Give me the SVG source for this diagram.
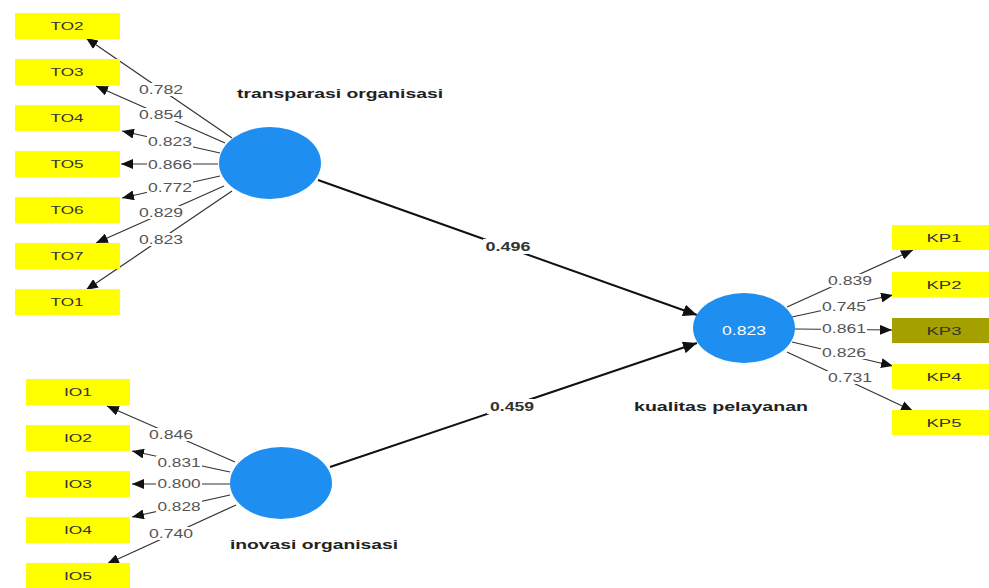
<svg xmlns="http://www.w3.org/2000/svg" width="989" height="588" viewBox="0 0 989 588">
<defs>
<style>
.ind rect{fill:#ffff00}
.ind text{font-family:"Liberation Sans",Arial,sans-serif;font-size:11px;fill:#333;text-anchor:middle}
.lv ellipse{fill:#1e8ff0}
.lvlab{font-family:"Liberation Sans",Arial,sans-serif;font-size:13px;font-weight:bold;fill:#222}
.ol{stroke:#333;stroke-width:1.2;fill:none;marker-end:url(#as)}
.il{stroke:#111;stroke-width:2;fill:none;marker-end:url(#al)}
.bg{fill:#fff}
.w{font-family:"Liberation Sans",Arial,sans-serif;font-size:12px;fill:#555;text-anchor:middle}
.pw{font-family:"Liberation Sans",Arial,sans-serif;font-size:12px;font-weight:bold;fill:#333;text-anchor:middle}
</style>
<marker id="as" markerUnits="userSpaceOnUse" markerWidth="12" markerHeight="10" refX="12" refY="5" orient="auto">
<path d="M0,0 L12,5 L0,10 Z" fill="#111"/>
</marker>
<marker id="al" markerUnits="userSpaceOnUse" markerWidth="14" markerHeight="12" refX="14" refY="6" orient="auto">
<path d="M0,0 L14,6 L0,12 Z" fill="#111"/>
</marker>
</defs>
<rect width="989" height="588" fill="#fff"/>

<g id="connectors">
<line class="ol" x1="232" y1="138" x2="86" y2="38"/>
<line class="ol" x1="225" y1="143" x2="96" y2="86"/>
<line class="ol" x1="220" y1="153" x2="122" y2="131"/>
<line class="ol" x1="218" y1="164" x2="121" y2="164"/>
<line class="ol" x1="220" y1="176" x2="122" y2="198"/>
<line class="ol" x1="224" y1="186" x2="96" y2="243"/>
<line class="ol" x1="232" y1="191" x2="86" y2="290"/>
<line class="ol" x1="235" y1="462" x2="107" y2="406"/>
<line class="ol" x1="230" y1="472" x2="132" y2="451"/>
<line class="ol" x1="230" y1="484" x2="132" y2="484"/>
<line class="ol" x1="230" y1="495" x2="132" y2="517"/>
<line class="ol" x1="236" y1="505" x2="107" y2="564"/>
<line class="ol" x1="787" y1="307" x2="913" y2="250"/>
<line class="ol" x1="792" y1="317" x2="893" y2="295"/>
<line class="ol" x1="795" y1="329" x2="892" y2="330"/>
<line class="ol" x1="792" y1="342" x2="893" y2="366"/>
<line class="ol" x1="787" y1="352" x2="913" y2="411"/>
<line class="il" x1="318" y1="180" x2="697" y2="315"/>
<line class="il" x1="330" y1="467" x2="697" y2="343"/>
<g id="weights">
<rect class="bg" x="138" y="83" width="46" height="13"/><text class="w" x="161" y="94" textLength="44" lengthAdjust="spacingAndGlyphs">0.782</text>
<rect class="bg" x="138" y="108" width="46" height="13"/><text class="w" x="161" y="119" textLength="44" lengthAdjust="spacingAndGlyphs">0.854</text>
<rect class="bg" x="147" y="135" width="46" height="13"/><text class="w" x="170" y="146" textLength="44" lengthAdjust="spacingAndGlyphs">0.823</text>
<rect class="bg" x="147" y="158" width="46" height="13"/><text class="w" x="170" y="169" textLength="44" lengthAdjust="spacingAndGlyphs">0.866</text>
<rect class="bg" x="147" y="181" width="46" height="13"/><text class="w" x="170" y="192" textLength="44" lengthAdjust="spacingAndGlyphs">0.772</text>
<rect class="bg" x="138" y="206" width="46" height="13"/><text class="w" x="161" y="217" textLength="44" lengthAdjust="spacingAndGlyphs">0.829</text>
<rect class="bg" x="138" y="233" width="46" height="13"/><text class="w" x="161" y="244" textLength="44" lengthAdjust="spacingAndGlyphs">0.823</text>
<rect class="bg" x="148" y="428" width="46" height="13"/><text class="w" x="171" y="439" textLength="44" lengthAdjust="spacingAndGlyphs">0.846</text>
<rect class="bg" x="156" y="456" width="46" height="13"/><text class="w" x="179" y="467" textLength="43" lengthAdjust="spacingAndGlyphs">0.831</text>
<rect class="bg" x="156" y="477" width="46" height="13"/><text class="w" x="179" y="488" textLength="43" lengthAdjust="spacingAndGlyphs">0.800</text>
<rect class="bg" x="156" y="500" width="46" height="13"/><text class="w" x="179" y="511" textLength="43" lengthAdjust="spacingAndGlyphs">0.828</text>
<rect class="bg" x="148" y="527" width="46" height="13"/><text class="w" x="171" y="538" textLength="44" lengthAdjust="spacingAndGlyphs">0.740</text>
<rect class="bg" x="827" y="274" width="46" height="13"/><text class="w" x="850" y="285" textLength="44" lengthAdjust="spacingAndGlyphs">0.839</text>
<rect class="bg" x="821" y="300" width="46" height="13"/><text class="w" x="844" y="311" textLength="44" lengthAdjust="spacingAndGlyphs">0.745</text>
<rect class="bg" x="821" y="322" width="46" height="13"/><text class="w" x="844" y="333" textLength="44" lengthAdjust="spacingAndGlyphs">0.861</text>
<rect class="bg" x="821" y="346" width="46" height="13"/><text class="w" x="844" y="357" textLength="44" lengthAdjust="spacingAndGlyphs">0.826</text>
<rect class="bg" x="827" y="371" width="46" height="13"/><text class="w" x="850" y="382" textLength="44" lengthAdjust="spacingAndGlyphs">0.731</text>
<rect class="bg" x="483" y="239" width="50" height="15"/><text class="pw" x="508" y="251" textLength="45" lengthAdjust="spacingAndGlyphs">0.496</text>
<rect class="bg" x="487" y="399" width="50" height="15"/><text class="pw" x="512" y="411" textLength="44" lengthAdjust="spacingAndGlyphs">0.459</text>
</g>
</g>

<g id="TO2" class="ind"><rect x="15" y="13" width="105" height="26"/><text x="67" y="30" textLength="33" lengthAdjust="spacingAndGlyphs">TO2</text></g>
<g id="TO3" class="ind"><rect x="15" y="59" width="105" height="26"/><text x="67" y="76" textLength="33" lengthAdjust="spacingAndGlyphs">TO3</text></g>
<g id="TO4" class="ind"><rect x="15" y="105" width="105" height="26"/><text x="67" y="122" textLength="33" lengthAdjust="spacingAndGlyphs">TO4</text></g>
<g id="TO5" class="ind"><rect x="15" y="151" width="105" height="26"/><text x="67" y="168" textLength="33" lengthAdjust="spacingAndGlyphs">TO5</text></g>
<g id="TO6" class="ind"><rect x="15" y="197" width="105" height="26"/><text x="67" y="214" textLength="33" lengthAdjust="spacingAndGlyphs">TO6</text></g>
<g id="TO7" class="ind"><rect x="15" y="243" width="105" height="26"/><text x="67" y="260" textLength="33" lengthAdjust="spacingAndGlyphs">TO7</text></g>
<g id="TO1" class="ind"><rect x="15" y="289" width="105" height="26"/><text x="67" y="306" textLength="33" lengthAdjust="spacingAndGlyphs">TO1</text></g>

<g id="IO1" class="ind"><rect x="26" y="379" width="104" height="26"/><text x="78" y="396" textLength="28" lengthAdjust="spacingAndGlyphs">IO1</text></g>
<g id="IO2" class="ind"><rect x="26" y="425" width="104" height="26"/><text x="78" y="442" textLength="28" lengthAdjust="spacingAndGlyphs">IO2</text></g>
<g id="IO3" class="ind"><rect x="26" y="471" width="104" height="26"/><text x="78" y="488" textLength="28" lengthAdjust="spacingAndGlyphs">IO3</text></g>
<g id="IO4" class="ind"><rect x="26" y="517" width="104" height="26"/><text x="78" y="534" textLength="28" lengthAdjust="spacingAndGlyphs">IO4</text></g>
<g id="IO5" class="ind"><rect x="26" y="563" width="104" height="26"/><text x="78" y="580" textLength="28" lengthAdjust="spacingAndGlyphs">IO5</text></g>

<g id="KP1" class="ind"><rect x="892" y="225" width="100" height="25"/><text x="944" y="242" textLength="35" lengthAdjust="spacingAndGlyphs">KP1</text></g>
<g id="KP2" class="ind"><rect x="892" y="272" width="100" height="25"/><text x="944" y="289" textLength="35" lengthAdjust="spacingAndGlyphs">KP2</text></g>
<g id="KP3" class="ind"><rect x="892" y="318" width="100" height="25" style="fill:#a3a000"/><text x="944" y="335" textLength="35" lengthAdjust="spacingAndGlyphs">KP3</text></g>
<g id="KP4" class="ind"><rect x="892" y="364" width="100" height="25"/><text x="944" y="381" textLength="35" lengthAdjust="spacingAndGlyphs">KP4</text></g>
<g id="KP5" class="ind"><rect x="892" y="410" width="100" height="25"/><text x="944" y="427" textLength="35" lengthAdjust="spacingAndGlyphs">KP5</text></g>

<g id="transparasi_organisasi" class="lv">
<ellipse cx="270" cy="163" rx="51" ry="36"/>
<text class="lvlab" x="237" y="98" textLength="206" lengthAdjust="spacingAndGlyphs">transparasi organisasi</text>
</g>
<g id="inovasi_organisasi" class="lv">
<ellipse cx="281" cy="483" rx="51" ry="36"/>
<text class="lvlab" x="230" y="549" textLength="168" lengthAdjust="spacingAndGlyphs">inovasi organisasi</text>
</g>
<g id="kualitas_pelayanan" class="lv">
<ellipse cx="744" cy="328" rx="51" ry="35"/>
<text x="744" y="335" textLength="44" lengthAdjust="spacingAndGlyphs" style="font-family:'Liberation Sans',Arial,sans-serif;font-size:12px;fill:#fff;text-anchor:middle">0.823</text>
<text class="lvlab" x="634" y="411" textLength="174" lengthAdjust="spacingAndGlyphs">kualitas pelayanan</text>
</g>
</svg>
